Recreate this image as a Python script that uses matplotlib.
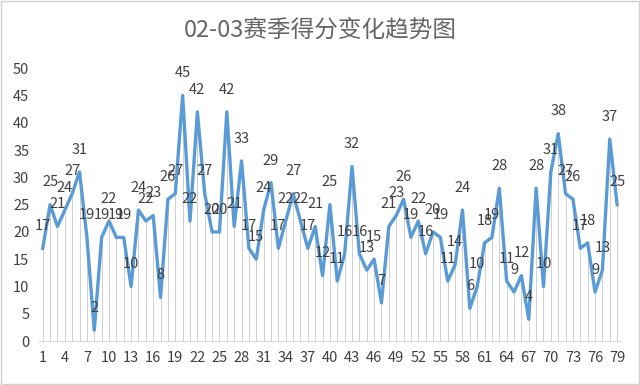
import matplotlib
matplotlib.use("Agg")
import matplotlib.pyplot as plt
from matplotlib.patches import Rectangle

plt.rcParams["font.family"] = ["Noto Sans CJK SC", "DejaVu Sans"]

title = "02-03赛季得分变化趋势图"

# points scored in each game
points = [
    17, 25, 21, 24, 27, 31, 19, 2, 19, 22,
    19, 19, 10, 24, 22, 23, 8, 26, 27, 45,
    22, 42, 27, 20, 20, 42, 21, 33, 17, 15,
    24, 29, 17, 22, 27, 22, 17, 21, 12, 25,
    11, 16, 32, 16, 13, 15, 7, 21, 23, 26,
    19, 22, 16, 20, 19, 11, 14, 24, 6, 10,
    18, 19, 28, 11, 9, 12, 4, 28, 10, 31,
    38, 27, 26, 17, 18, 9, 13, 37, 25,
]
games = list(range(1, len(points) + 1))
x_ticks = games[::3]
y_ticks = list(range(0, 51, 5))

line_color = "#5B9BD5"
text_color = "#404040"


def main() -> None:
    fig = plt.figure(figsize=(6.4, 3.85), dpi=100)
    fig.patch.set_facecolor("white")
    fig.patches.append(Rectangle((0.002, 0.003), 0.996, 0.994,
                                 transform=fig.transFigure, fill=False,
                                 edgecolor="#D0D0D0", linewidth=1.0))
    ax = fig.add_axes([0.061, 0.114, 0.909, 0.709])

    ax.vlines(games, 0, points, color="#C8C8C8", linewidth=0.6, zorder=1)
    ax.plot(games, points, color=line_color, linewidth=2.4,
            solid_joinstyle="round", zorder=3)

    for g, p in zip(games, points):
        ax.annotate(str(p), (g, p), xytext=(0, 16), textcoords="offset points",
                    ha="center", va="center", fontsize=10.5, color=text_color,
                    zorder=4)

    ax.set_xlim(0.5, len(points) + 0.5)
    ax.set_ylim(0, 50)
    ax.set_xticks(x_ticks)
    ax.set_xticklabels([str(t) for t in x_ticks])
    ax.set_yticks(y_ticks)
    ax.tick_params(axis="both", length=0, labelsize=10.5, colors=text_color)
    ax.tick_params(axis="x", pad=7)
    ax.tick_params(axis="y", pad=7)

    for side in ("left", "right", "top"):
        ax.spines[side].set_visible(False)
    ax.spines["bottom"].set_color("#D9D9D9")
    ax.spines["bottom"].set_linewidth(0.8)

    fig.text(0.5, 0.922, title, ha="center", va="center", fontsize=17,
             color="#666666")

    fig.savefig("out.png", dpi=100)
    plt.close(fig)


if __name__ == "__main__":
    main()
